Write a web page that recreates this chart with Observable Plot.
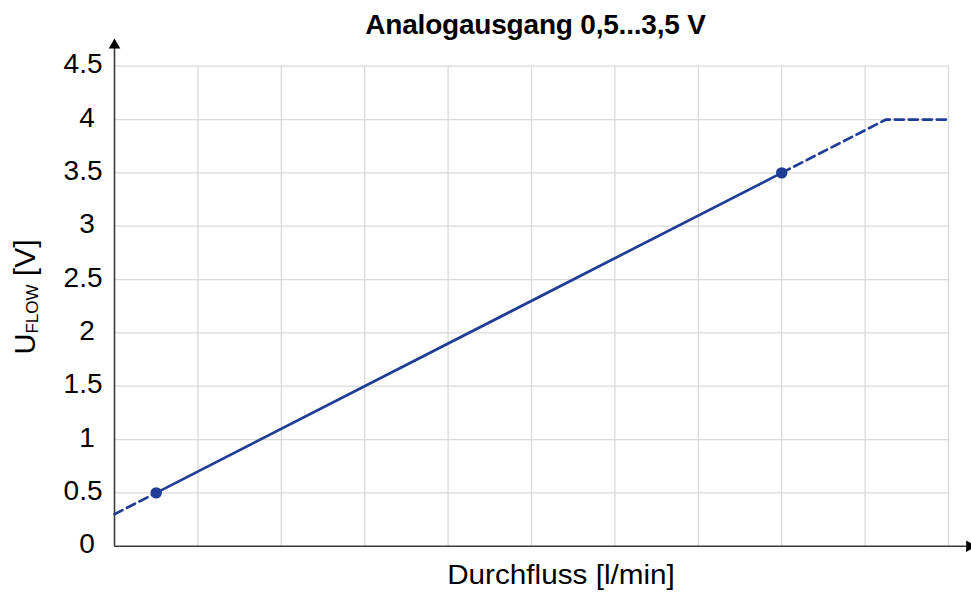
<!DOCTYPE html>
<html>
<head>
<meta charset="utf-8">
<script src="https://cdn.jsdelivr.net/npm/d3@7"></script>
<script src="https://cdn.jsdelivr.net/npm/@observablehq/plot@0.6"></script>
<style>
  body { margin: 0; background: #fff; }
  #wrap { position: relative; width: 971px; height: 592px; overflow: hidden; background: #fff; }
  #title {
    position: absolute; left: 50px; top: 11px; width: 971px;
    text-align: center; font: bold 28px "Liberation Sans", Arial, sans-serif;
    line-height: 28px; color: #000; z-index: 2; letter-spacing: -0.2px;
  }
  #chart { position: absolute; left: 0; top: 0; }
</style>
</head>
<body>
<div id="wrap"><div id="title"></div><div id="chart"></div></div>
<script>
// ---- data ----
const titleText = "Analogausgang 0,5...3,5 V";
const xLabelText = "Durchfluss [l/min]";
const yLabelMain = "U";
const yLabelSub = "FLOW";
const yLabelUnit = "\u00a0[V]";

const yTicks = [0, 0.5, 1, 1.5, 2, 2.5, 3, 3.5, 4, 4.5];
const xGrid = [1, 2, 3, 4, 5, 6, 7, 8, 9, 10];
const axisOrigin = [0];

// characteristic line (solid, within 0.5...3.5 V)
const solidX = [0.5, 8];
const solidY = [0.5, 3.5];
// dashed extension below 0.5 V
const lowX = [0, 0.5];
const lowY = [0.3, 0.5];
// dashed extension above 3.5 V up to saturation
const highX = [8, 9.25, 10];
const highY = [3.5, 4, 4];
// marked points
const pointX = [0.5, 8];
const pointY = [0.5, 3.5];

const lineColor = "#203d96";
const gridColor = "#d9d9d9";
const axisColor = "#3a3a3a";

document.getElementById("title").textContent = titleText;

const plot = Plot.plot({
  width: 971,
  height: 592,
  marginLeft: 114,
  marginRight: 23,
  marginTop: 65.7,
  marginBottom: 46.3,
  x: {domain: [0, 10], axis: null},
  y: {domain: [0, 4.5], axis: null},
  style: {
    fontFamily: '"Liberation Sans", Arial, sans-serif',
    color: "#000",
    background: "transparent",
    overflow: "visible"
  },
  marks: [
    Plot.ruleX(xGrid, {stroke: gridColor, strokeWidth: 1.3}),
    Plot.ruleY(yTicks.filter(d => d > 0), {stroke: gridColor, strokeWidth: 1.3}),
    Plot.axisY(yTicks, {
      tickSize: 0, tickPadding: 12, fontSize: 28, label: null,
      tickFormat: d => Number.isInteger(d) ? d + "\u2008" : String(d),
      dy: -2
    }),
    Plot.ruleY(axisOrigin, {stroke: axisColor, strokeWidth: 1.6, insetRight: -18}),
    Plot.ruleX(axisOrigin, {stroke: axisColor, strokeWidth: 1.6, insetTop: -18}),
    Plot.dot(axisOrigin, {x: d => d, frameAnchor: "top", dy: -21, symbol: "triangle", r: 4.3, fill: "#000", stroke: null}),
    Plot.dot(axisOrigin, {y: d => d, frameAnchor: "right", dx: 21, symbol: "triangle", rotate: 90, r: 4.3, fill: "#000", stroke: null}),
    Plot.line(lowX, {x: lowX, y: lowY, stroke: lineColor, strokeWidth: 2.7, strokeDasharray: "9,5"}),
    Plot.line(highX, {x: highX, y: highY, stroke: lineColor, strokeWidth: 2.7, strokeDasharray: "9,5"}),
    Plot.line(solidX, {x: solidX, y: solidY, stroke: lineColor, strokeWidth: 2.7}),
    Plot.dot(pointX, {x: pointX, y: pointY, r: 5.7, fill: lineColor, stroke: null})
  ]
});

const svg = d3.select(plot);
// x axis label
svg.append("text")
  .attr("transform", "translate(561,584.3) scale(1.1,1)")
  .attr("text-anchor", "middle")
  .attr("font-family", '"Liberation Sans", Arial, sans-serif')
  .attr("font-size", 27)
  .attr("fill", "#000")
  .text(xLabelText);
// y axis label with subscript
const yl = svg.append("text")
  .attr("transform", "translate(34.5,297) rotate(-90)")
  .attr("text-anchor", "middle")
  .attr("font-family", '"Liberation Sans", Arial, sans-serif')
  .attr("fill", "#000");
yl.append("tspan").attr("font-size", 29).text(yLabelMain);
yl.append("tspan").attr("font-size", 17).attr("dy", 3).text(yLabelSub);
yl.append("tspan").attr("font-size", 30).attr("dy", -3).text(yLabelUnit);

document.getElementById("chart").appendChild(plot);
</script>
</body>
</html>
